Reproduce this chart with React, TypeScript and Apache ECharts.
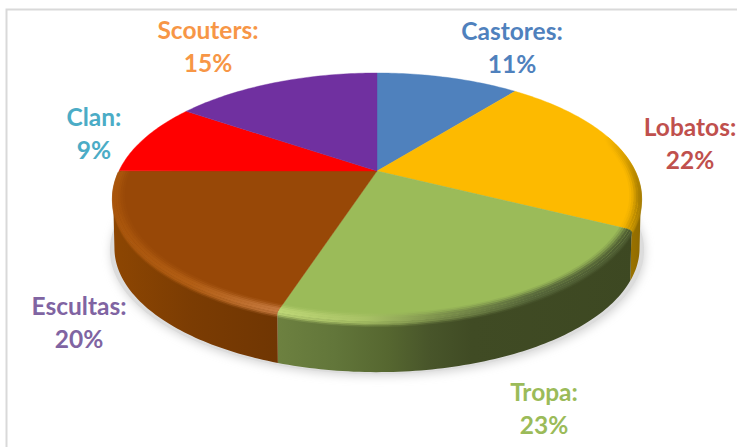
import React, { useEffect, useRef } from "react";
import * as echarts from "echarts";

const categories = ["Castores", "Lobatos", "Tropa", "Escultas", "Clan", "Scouters"];
const sliceValues = [10.7, 21.72, 22.58, 20.02, 9.49, 15.49];

const topColors = ["#4f81bd", "#fdba00", "#9bbb59", "#984807", "#ff0000", "#7030a0"];
const labelColors = ["#4f81bd", "#c0504d", "#9bbb59", "#8064a2", "#4bacc6", "#f79646"];
const labelAnchors = [
  [512, 47],
  [690, 143],
  [544, 408],
  [79, 322],
  [94, 133],
  [208, 46],
];
// horizontal colour runs of the side wall [x fraction of pie width, colour]
const wallStops: [number, string][][] = [
  [[0, "#3a5a85"], [1, "#3a5a85"]],
  [[0.9, "#c79300"], [1, "#8f6a00"]],
  [[0.31, "#6d8140"], [0.42, "#62763a"], [0.52, "#566730"], [0.6, "#48552a"], [0.68, "#404b24"], [1, "#3d4822"]],
  [[0, "#8d4602"], [0.15, "#7b3c03"], [0.31, "#703603"]],
  [[0, "#a00000"], [1, "#a00000"]],
  [[0, "#4a2070"], [1, "#4a2070"]],
];
const rimStops: [number, string][][] = [
  [[0, "#4f81bd"], [1, "#4f81bd"]],
  [[0.93, "#fdba00"], [0.97, "#d9a000"], [1, "#a67c00"]],
  [[0.31, "#bfd877"], [0.48, "#a9c266"], [0.62, "#7b8f4b"], [0.8, "#56663a"], [1, "#4c5a30"]],
  [[0, "#a8540a"], [0.15, "#b35f15"], [0.31, "#c67a40"]],
  [[0, "#ff0000"], [1, "#ff0000"]],
  [[0, "#7030a0"], [1, "#7030a0"]],
];

const total = sliceValues.reduce((a, b) => a + b, 0);
const HUB_X = 377;
const HUB_Y = 171;
const RX = 258;
const RY = 118.6;
const PERSPECTIVE = 0.21;
const DEPTH = 51;
const LEFT = 113;
const WIDTH = 528;
// where the tilted disc is widest: the wall is only seen between these two
const WALL_FROM = Math.acos(-PERSPECTIVE) / (2 * Math.PI);
const WALL_TO = 1 - WALL_FROM;

function project(t: number, r = 1, dy = 0, sx = 1): number[] {
  const a = 2 * Math.PI * t;
  const x = Math.sin(a) * r;
  const y = Math.cos(a) * r;
  const d = 1 + PERSPECTIVE * y;
  return [HUB_X + (sx * RX * x) / d, HUB_Y + dy - (RY * y) / d];
}

function arc(t0: number, t1: number, r = 1, dy = 0, sx = 1): number[][] {
  const n = Math.max(2, Math.ceil((t1 - t0) * 360));
  const pts: number[][] = [];
  for (let i = 0; i <= n; i++) pts.push(project(t0 + ((t1 - t0) * i) / n, r, dy, sx));
  return pts;
}

function startOf(i: number): number {
  let s = 0;
  for (let j = 0; j < i; j++) s += sliceValues[j];
  return s / total;
}

function hGrad(stops: [number, string][]) {
  return new echarts.graphic.LinearGradient(
    LEFT,
    0,
    LEFT + WIDTH,
    0,
    stops.map(([offset, color]) => ({ offset, color })),
    true
  );
}

const RIM_LAYERS: [number, number, number][] = [
  [0.962, 0, 0.15],
  [0.97, 0, 0.35],
  [0.978, 0, 0.65],
  [0.986, 0, 0.9],
  [0.994, 0.5, 1],
  [1, 1.5, 0.85],
  [1, 3, 0.5],
  [1, 4.5, 0.2],
];

function wallItem(params: any, api: any) {
  const i = params.dataIndex;
  const t0 = Math.max(startOf(i), WALL_FROM);
  const t1 = Math.min(startOf(i) + api.value(0) / total, WALL_TO);
  if (t1 <= t0) return { type: "group", children: [] };
  const top = arc(t0, t1);
  const bottom = arc(t0, t1, 1, DEPTH, 0.995).reverse();
  return {
    type: "polygon",
    shape: { points: top.concat(bottom) },
    style: { fill: hGrad(wallStops[i]) },
    silent: true,
  };
}

function topItem(params: any, api: any) {
  const i = params.dataIndex;
  const t0 = startOf(i);
  const t1 = t0 + api.value(0) / total;
  const hub = project(0, 0);
  return {
    type: "polygon",
    shape: { points: [hub].concat(arc(t0, t1)) },
    style: { fill: topColors[i], stroke: topColors[i], lineWidth: 0.4 },
    silent: true,
  };
}

function rimItem(params: any, api: any) {
  const i = params.dataIndex;
  const t0 = Math.max(startOf(i), 0.2);
  const t1 = Math.min(startOf(i) + api.value(0) / total, 0.75);
  if (t1 <= t0) return { type: "group", children: [] };
  return {
    type: "group",
    children: RIM_LAYERS.map(([r, dy, opacity]) => ({
      type: "polyline",
      shape: { points: arc(t0, t1, r, dy) },
      style: { fill: "none", stroke: hGrad(rimStops[i]), lineWidth: 2.4, opacity },
      silent: true,
    })),
  };
}

function labelItem(params: any, api: any) {
  const i = params.dataIndex;
  return {
    type: "text",
    x: labelAnchors[i][0],
    y: labelAnchors[i][1],
    style: {
      text: `${categories[i]}:\n${Math.round(api.value(0))}%`,
      fill: labelColors[i],
      font: 'bold 24.5px Lato, "Open Sans", sans-serif',
      lineHeight: 32.5,
      align: "center",
      verticalAlign: "middle",
    },
    silent: true,
  };
}

export default function App() {
  const ref = useRef<HTMLDivElement>(null);
  useEffect(() => {
    document.body.style.margin = "0";
    const chart = echarts.init(ref.current!, null, { renderer: "svg" });
    const data = categories.map((name, i) => ({ name, value: sliceValues[i] }));
    const custom = (renderItem: any, z: number) => ({
      type: "custom",
      coordinateSystem: "none",
      data,
      renderItem,
      z,
      animation: false,
    });
    chart.setOption({
      animation: false,
      backgroundColor: "#ffffff",
      graphic: [
        {
          type: "rect",
          z: 0,
          shape: { x: 6.5, y: 9.5, width: 900, height: 600 },
          style: { fill: "#ffffff", stroke: "#d9d9d9", lineWidth: 2 },
          silent: true,
        },
        {
          type: "polygon",
          z: 1,
          shape: { points: arc(0, 1, 1.0, DEPTH + 2, 1.012) },
          style: {
            fill: "#dcdcdc",
            shadowBlur: 10,
            shadowColor: "#d4d4d4",
            shadowOffsetX: 1,
            shadowOffsetY: 2,
          },
          silent: true,
        },
      ],
      series: [
        custom(wallItem, 2),
        custom(topItem, 3),
        custom(rimItem, 4),
        custom(labelItem, 5),
      ],
    });
    return () => chart.dispose();
  }, []);
  return <div ref={ref} style={{ width: 737, height: 447 }} />;
}
